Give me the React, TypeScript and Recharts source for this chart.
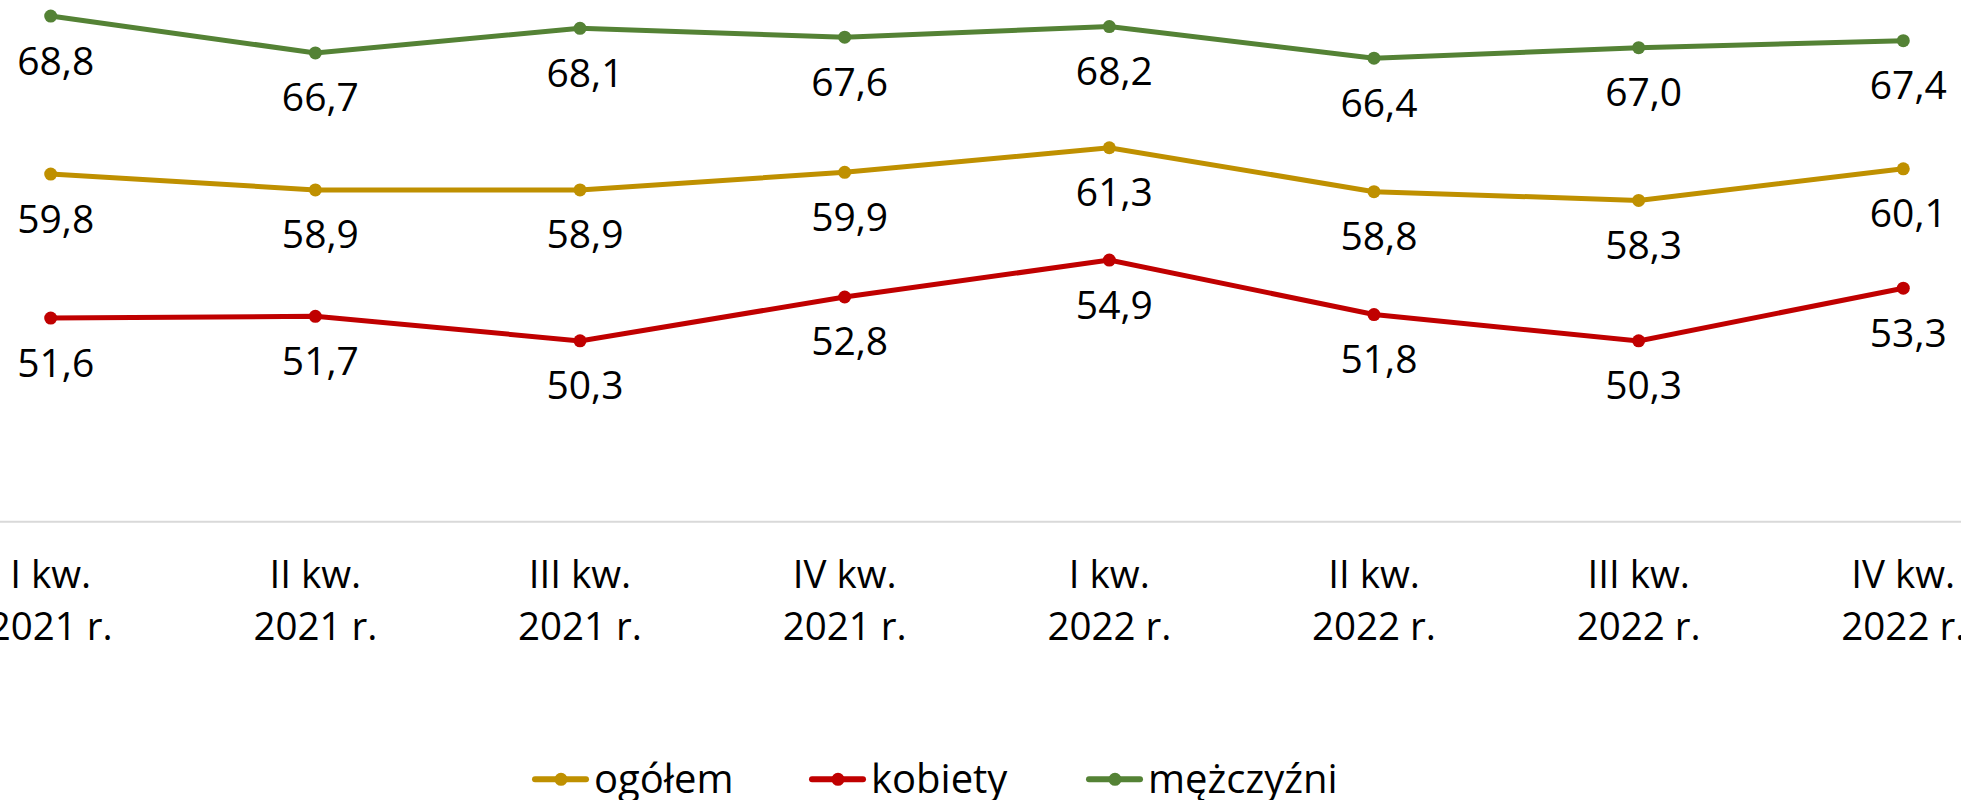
import React from 'react';
import { LineChart, Line, XAxis, YAxis, Legend } from 'recharts';

const quarterLabels = ['I kw.', 'II kw.', 'III kw.', 'IV kw.', 'I kw.', 'II kw.', 'III kw.', 'IV kw.'];
const yearLabels = ['2021 r.', '2021 r.', '2021 r.', '2021 r.', '2022 r.', '2022 r.', '2022 r.', '2022 r.'];
const ogolem = [59.8, 58.9, 58.9, 59.9, 61.3, 58.8, 58.3, 60.1];
const kobiety = [51.6, 51.7, 50.3, 52.8, 54.9, 51.8, 50.3, 53.3];
const mezczyzni = [68.8, 66.7, 68.1, 67.6, 68.2, 66.4, 67.0, 67.4];

const seriesKeys = ['ogolem', 'kobiety', 'mezczyzni'];
const seriesNames = ['ogółem', 'kobiety', 'mężczyźni'];
const seriesColors = ['#BF9000', '#C00000', '#548235'];

const data = quarterLabels.map((q, i) => ({
  q: `${q} ${yearLabels[i]}`,
  ogolem: ogolem[i],
  kobiety: kobiety[i],
  mezczyzni: mezczyzni[i],
}));

const FONT = '"Open Sans", sans-serif';

const fmt = (v: number) => v.toFixed(1).replace('.', ',');

const renderLabel = (props: any) => {
  const { x, y, value } = props;
  if (x == null || y == null) return null;
  return (
    <text x={x + 5} y={y + 58.5} textAnchor="middle" fontFamily={FONT} fontSize={39} fill="#000">
      {fmt(Number(value))}
    </text>
  );
};

const renderTick = (props: any) => {
  const { x, y, index } = props;
  return (
    <g>
      <text x={x} y={y + 66.3} textAnchor="middle" fontFamily={FONT} fontSize={38.5} fill="#000">
        {quarterLabels[index]}
      </text>
      <text x={x} y={y + 118.3} textAnchor="middle" fontFamily={FONT} fontSize={38.5} fill="#000">
        {yearLabels[index]}
      </text>
    </g>
  );
};

const renderLegend = (props: any) => {
  const payload = [...(props.payload || [])].sort(
    (a: any, b: any) => seriesNames.indexOf(a.value) - seriesNames.indexOf(b.value)
  );
  return (
    <svg width={840} height={60} style={{ overflow: 'visible', display: 'block' }}>
      {payload.map((p: any, i: number) => {
        const ox = i * 277;
        return (
          <g key={i}>
            <line x1={ox + 2} x2={ox + 53} y1={29.3} y2={29.3} stroke={p.color} strokeWidth={6} strokeLinecap="round" />
            <circle cx={ox + 28} cy={29.3} r={6.5} fill={p.color} />
            <text x={ox + 61} y={43} fontFamily={FONT} fontSize={40} fill="#000">
              {p.value}
            </text>
          </g>
        );
      })}
    </svg>
  );
};

export default function App() {
  return (
    <div style={{ position: 'absolute', left: 0, top: 0, width: 1961, height: 800, overflow: 'hidden', background: '#fff' }}>
      <div style={{ position: 'absolute', left: 0, top: -5 }}>
        <LineChart width={1961} height={810} data={data} margin={{ top: 0, right: 0, bottom: 0, left: 0 }}>
          <XAxis
            dataKey="q"
            interval={0}
            tickLine={false}
            tickSize={0}
            tickMargin={0}
            height={283.3}
            padding={{ left: 50.7, right: 57.7 }}
            axisLine={{ stroke: '#D9D9D9', strokeWidth: 2 }}
            tick={renderTick}
          />
          <YAxis hide domain={[40, 70]} type="number" allowDataOverflow />
          <Legend
            verticalAlign="middle"
            layout="horizontal"
            align="center"
            content={renderLegend}
            wrapperStyle={{ position: 'absolute', left: 533, top: 755, width: 840, height: 60 }}
          />
          {seriesKeys.map((k, i) => (
            <Line
              key={k}
              dataKey={k}
              name={seriesNames[i]}
              stroke={seriesColors[i]}
              strokeWidth={5}
              dot={{ r: 6.5, fill: seriesColors[i], stroke: 'none' }}
              activeDot={false}
              isAnimationActive={false}
              label={renderLabel}
            />
          ))}
        </LineChart>
      </div>
    </div>
  );
}
